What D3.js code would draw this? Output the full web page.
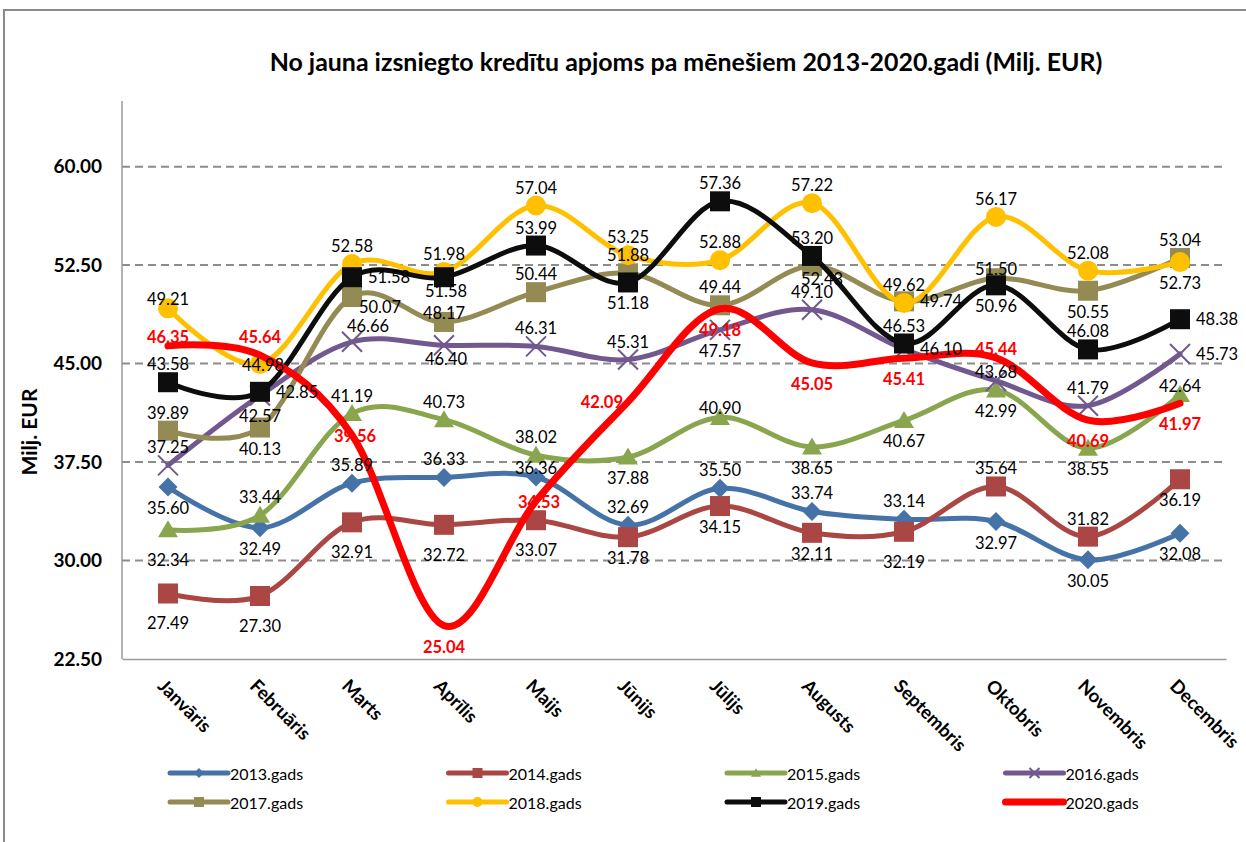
<!DOCTYPE html>
<html>
<head>
<meta charset="utf-8">
<script src="https://cdn.jsdelivr.net/npm/d3@7"></script>
<style>
    body { margin: 0; background: #fff; }
    text { font-family: Lato, "Open Sans", sans-serif; }
</style>
</head>
<body>
<svg id="chart" width="1246" height="842"></svg>
<script>
// chart data
const months = ["Janvāris", "Februāris", "Marts", "Aprīlis", "Maijs", "Jūnijs",
    "Jūlijs", "Augusts", "Septembris", "Oktobris", "Novembris", "Decembris"];
const seriesNames = ["2013.gads", "2014.gads", "2015.gads", "2016.gads",
    "2017.gads", "2018.gads", "2019.gads", "2020.gads"];
const yTicks = [22.5, 30, 37.5, 45, 52.5, 60];

const v2013 = [35.60, 32.49, 35.89, 36.33, 36.36, 32.69, 35.50, 33.74, 33.14, 32.97, 30.05, 32.08];
const v2014 = [27.49, 27.30, 32.91, 32.72, 33.07, 31.78, 34.15, 32.11, 32.19, 35.64, 31.82, 36.19];
const v2015 = [32.34, 33.44, 41.19, 40.73, 38.02, 37.88, 40.90, 38.65, 40.67, 42.99, 38.55, 42.64];
const v2016 = [37.25, 42.57, 46.66, 46.40, 46.31, 45.31, 47.57, 49.10, 46.10, 43.68, 41.79, 45.73];
const v2017 = [39.89, 40.13, 50.07, 48.17, 50.44, 51.88, 49.44, 52.43, 49.74, 51.50, 50.55, 53.04];
const v2018 = [49.21, 44.98, 52.58, 51.98, 57.04, 53.25, 52.88, 57.22, 49.62, 56.17, 52.08, 52.73];
const v2019 = [43.58, 42.85, 51.58, 51.58, 53.99, 51.18, 57.36, 53.20, 46.53, 50.96, 46.08, 48.38];
const v2020 = [46.35, 45.64, 39.56, 25.04, 34.53, 42.09, 49.18, 45.05, 45.41, 45.44, 40.69, 41.97];

// where each data label sits: t above, b below, r right, l left, c centred,
// tn/bn close above/below, tr/br above-right/below-right
const lp2013 = ['b','b','t','t','tn','t','t','t','t','b','b','b'];
const lp2014 = ['bb','bb','bb','bb','bb','b','b','b','bb','t','t','b'];
const lp2015 = ['bb','t','t','t','t','b','tn','b','b','b','b','tn'];
const lp2016 = ['t','b','tr','bn','t','t','b','t','r','tn','t','r'];
const lp2017 = ['t','b','br','tn','t','t','t','bnr','r','tn','b','t'];
const lp2018 = ['tn','c','t','t','t','t','t','t','t','t','t','b'];
const lp2019 = ['t','r','r','bn','t','b','t','t','t','b','t','r'];
const lp2020 = ['tn','t','c','b','c','l','b','b','b','tn','b','b'];

const series = [
    {name: seriesNames[0], values: v2013, pos: lp2013, color: '#4572A7', marker: 'diamond', width: 5},
    {name: seriesNames[1], values: v2014, pos: lp2014, color: '#AA4643', marker: 'square', width: 5},
    {name: seriesNames[2], values: v2015, pos: lp2015, color: '#89A54E', marker: 'triangle', width: 5},
    {name: seriesNames[3], values: v2016, pos: lp2016, color: '#71588F', marker: 'x', width: 5},
    {name: seriesNames[4], values: v2017, pos: lp2017, color: '#948A54', marker: 'square', width: 5},
    {name: seriesNames[5], values: v2018, pos: lp2018, color: '#FFC000', marker: 'circle', width: 5},
    {name: seriesNames[6], values: v2019, pos: lp2019, color: '#0D0D0D', marker: 'square', width: 5},
    {name: seriesNames[7], values: v2020, pos: lp2020, color: '#FF0000', marker: 'none', width: 7, bold: true}
];

const svg = d3.select('#chart');
const plot = {left: 122, right: 1226, top: 101, bottom: 659};

// outer frame
svg.append('rect')
    .attr('x', 4).attr('y', 10)
    .attr('width', 1300).attr('height', 900)
    .attr('fill', 'none')
    .attr('stroke', '#8a8a8a')
    .attr('stroke-width', 2);

const x = d3.scalePoint()
    .domain(months)
    .range([plot.left, plot.right])
    .padding(0.5);

const y = d3.scaleLinear()
    .domain([22.5, 65])
    .range([plot.bottom, plot.top]);

// gridlines
svg.append('g')
    .selectAll('line')
    .data(yTicks.slice(1))
    .join('line')
    .attr('x1', plot.left).attr('x2', plot.right)
    .attr('y1', d => y(d)).attr('y2', d => y(d))
    .attr('stroke', '#8c8c8c')
    .attr('stroke-width', 2)
    .attr('stroke-dasharray', '8,5');

// y axis
const yAxis = d3.axisLeft(y)
    .tickValues(yTicks)
    .tickFormat(d3.format('.2f'))
    .tickSize(0)
    .tickPadding(20);

svg.append('g')
    .attr('transform', `translate(${plot.left},0)`)
    .call(yAxis)
    .call(g => g.select('.domain').remove())
    .call(g => g.selectAll('text')
        .style('font-family', 'Lato, sans-serif')
        .style('font-size', '19px')
        .style('font-weight', 'bold')
        .attr('fill', '#000'));

svg.append('line')
    .attr('x1', plot.left).attr('x2', plot.left)
    .attr('y1', plot.top).attr('y2', plot.bottom)
    .attr('stroke', '#9a9a9a').attr('stroke-width', 1.5);

// x axis
const xAxis = d3.axisBottom(x).tickSize(0).tickFormat('');
svg.append('g')
    .attr('transform', `translate(0,${plot.bottom})`)
    .call(xAxis)
    .call(g => g.select('.domain').attr('stroke', '#9a9a9a').attr('stroke-width', 1.5));

svg.append('g')
    .selectAll('text')
    .data(months)
    .join('text')
    .attr('transform', d => `translate(${x(d) - 1},${plot.bottom + 18}) rotate(45)`)
    .attr('dominant-baseline', 'hanging')
    .attr('text-anchor', 'start')
    .style('font-size', '18.5px')
    .style('font-weight', 'bold')
    .text(d => d);

// axis title
svg.append('text')
    .attr('transform', `translate(28,432) rotate(-90)`)
    .attr('text-anchor', 'middle')
    .attr('dominant-baseline', 'central')
    .style('font-size', '21px')
    .style('font-weight', 'bold')
    .text('Milj. EUR');

// chart title
const title = svg.append('text')
    .attr('x', 686).attr('y', 61)
    .attr('text-anchor', 'middle')
    .attr('dominant-baseline', 'central')
    .style('font-size', '21px')
    .style('font-weight', 'bold')
    .text('No jauna izsniegto kredītu apjoms pa mēnešiem 2013-2020.gadi (Milj. EUR)');
const tw = title.node().getComputedTextLength();
title.style('font-size', (21 * 833 / tw).toFixed(2) + 'px');

// marker drawing
function drawMarker(sel, type, color, size) {
    const h = size / 2;
    if (type === 'square') {
        sel.append('rect')
            .attr('x', -h).attr('y', -h).attr('width', size).attr('height', size)
            .attr('fill', color);
    } else if (type === 'diamond') {
        sel.append('path')
            .attr('d', `M0,${-h}L${h},0L0,${h}L${-h},0Z`)
            .attr('fill', color);
    } else if (type === 'triangle') {
        sel.append('path')
            .attr('d', `M0,${-h * 0.95}L${h},${h * 0.75}L${-h},${h * 0.75}Z`)
            .attr('fill', color);
    } else if (type === 'circle') {
        sel.append('circle').attr('r', h).attr('fill', color);
    } else if (type === 'x') {
        sel.append('path')
            .attr('d', `M${-h},${-h}L${h},${h}M${-h},${h}L${h},${-h}`)
            .attr('stroke', color)
            .attr('stroke-width', 2)
            .attr('fill', 'none');
    }
}

const line = d3.line()
    .x((d, i) => x(months[i]))
    .y(d => y(d))
    .curve(d3.curveCardinal.tension(0));

// series lines + markers
series.forEach(s => {
    const g = svg.append('g');
    g.append('path')
        .attr('d', line(s.values))
        .attr('fill', 'none')
        .attr('stroke', s.color)
        .attr('stroke-width', s.width)
        .attr('stroke-linejoin', 'round')
        .attr('stroke-linecap', 'round');
    g.selectAll('g.mk')
        .data(s.values)
        .join('g')
        .attr('class', 'mk')
        .attr('transform', (d, i) => `translate(${x(months[i])},${y(d)})`)
        .each(function () { drawMarker(d3.select(this), s.marker, s.color, s.marker === 'diamond' ? 19 : 20); });
});

// data labels
const off = {
    t: {dx: 0, dy: -18, anchor: 'middle'},
    tn: {dx: 0, dy: -9, anchor: 'middle'},
    tr: {dx: 16, dy: -16, anchor: 'middle'},
    b: {dx: 0, dy: 21, anchor: 'middle'},
    bb: {dx: 0, dy: 30, anchor: 'middle'},
    bn: {dx: 2, dy: 14, anchor: 'middle'},
    bnr: {dx: 10, dy: 13, anchor: 'middle'},
    br: {dx: 28, dy: 10, anchor: 'middle'},
    r: {dx: 16, dy: 0, anchor: 'start'},
    l: {dx: -5, dy: 0, anchor: 'end'},
    c: {dx: 3, dy: 1, anchor: 'middle'}
};
series.forEach(s => {
    svg.append('g')
        .selectAll('text')
        .data(s.values)
        .join('text')
        .attr('x', (d, i) => x(months[i]) + off[s.pos[i]].dx)
        .attr('y', (d, i) => y(d) + off[s.pos[i]].dy)
        .attr('text-anchor', (d, i) => off[s.pos[i]].anchor)
        .attr('dominant-baseline', 'central')
        .style('font-size', '16.5px')
        .style('font-weight', s.bold ? 'bold' : 'normal')
        .attr('fill', s.bold ? s.color : '#000')
        .text(d => d.toFixed(2));
});

// legend
const legend = svg.append('g');
series.forEach((s, i) => {
    const col = i % 4, row = Math.floor(i / 4);
    const lg = legend.append('g')
        .attr('transform', `translate(${170 + col * 278.5},${773 + row * 29})`);
    lg.append('line')
        .attr('x1', 0).attr('x2', 58)
        .attr('stroke', s.color)
        .attr('stroke-width', s.width)
        .attr('stroke-linecap', 'round');
    drawMarker(lg.append('g').attr('transform', 'translate(29,0)'), s.marker, s.color, 10);
    lg.append('text')
        .attr('x', 60)
        .attr('dominant-baseline', 'central')
        .style('font-size', '16px')
        .text(s.name);
});
</script>
</body>
</html>
